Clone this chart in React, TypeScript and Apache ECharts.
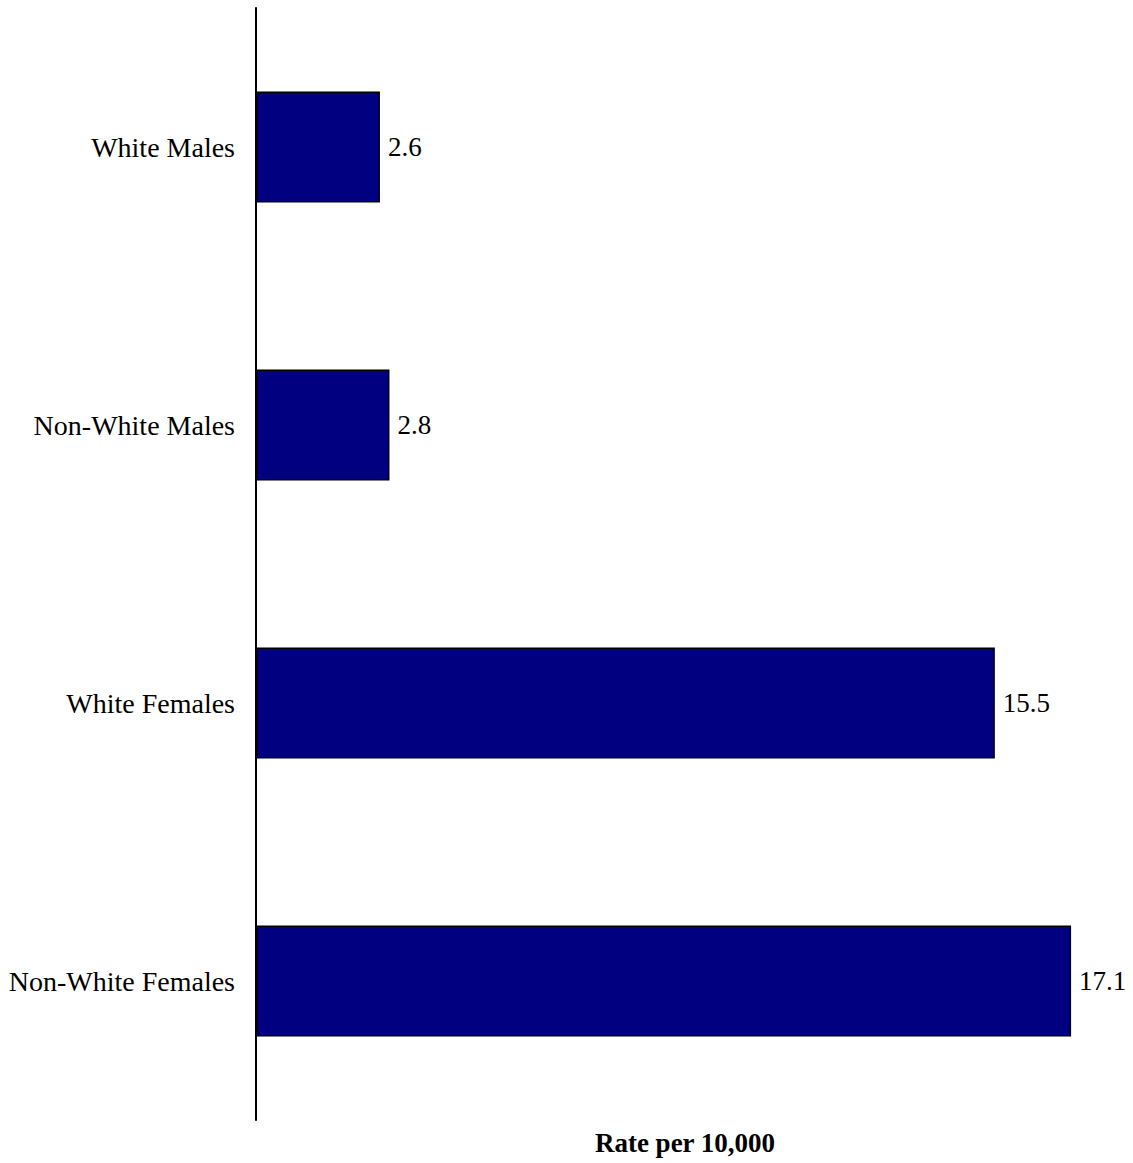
import React, { useEffect, useRef } from "react";
import * as echarts from "echarts";

const categories = ["White Males", "Non-White Males", "White Females", "Non-White Females"];
const rates = [2.6, 2.8, 15.5, 17.1];
const axisTitle = "Rate per 10,000";

export default function App() {
  const ref = useRef<HTMLDivElement>(null);
  useEffect(() => {
    if (!ref.current) return;
    const chart = echarts.init(ref.current, undefined, { renderer: "svg" });
    const font = "'Liberation Serif', 'Times New Roman', serif";
    chart.setOption({
      animation: false,
      grid: { left: 256, right: 19, top: 8, bottom: 43, containLabel: false },
      xAxis: {
        type: "value",
        min: 0,
        max: 18,
        name: axisTitle,
        nameLocation: "middle",
        nameGap: 9,
        nameTextStyle: { fontFamily: font, fontSize: 27, fontWeight: "bold", color: "#000", verticalAlign: "top" },
        axisLine: { show: false },
        axisTick: { show: false },
        axisLabel: { show: false },
        splitLine: { show: false },
      },
      yAxis: {
        type: "category",
        data: categories,
        inverse: true,
        axisLine: { show: true, lineStyle: { color: "#000", width: 2 } },
        axisTick: { show: false },
        axisLabel: { fontFamily: font, fontSize: 28, color: "#000", margin: 21, padding: [6, 0, 0, 0] },
        splitLine: { show: false },
      },
      series: [
        {
          type: "bar",
          data: rates,
          barCategoryGap: "60%",
          itemStyle: { color: "#000080", borderColor: "#000", borderWidth: 1.5 },
          label: {
            show: true,
            position: "right",
            distance: 8,
            fontFamily: font,
            fontSize: 27,
            color: "#000",
            formatter: (p: any) => p.value.toFixed(1),
          },
        },
      ],
    });
    return () => chart.dispose();
  }, []);
  return <div ref={ref} style={{ width: 1133, height: 1163, position: "absolute", left: 0, top: 0 }} />;
}
